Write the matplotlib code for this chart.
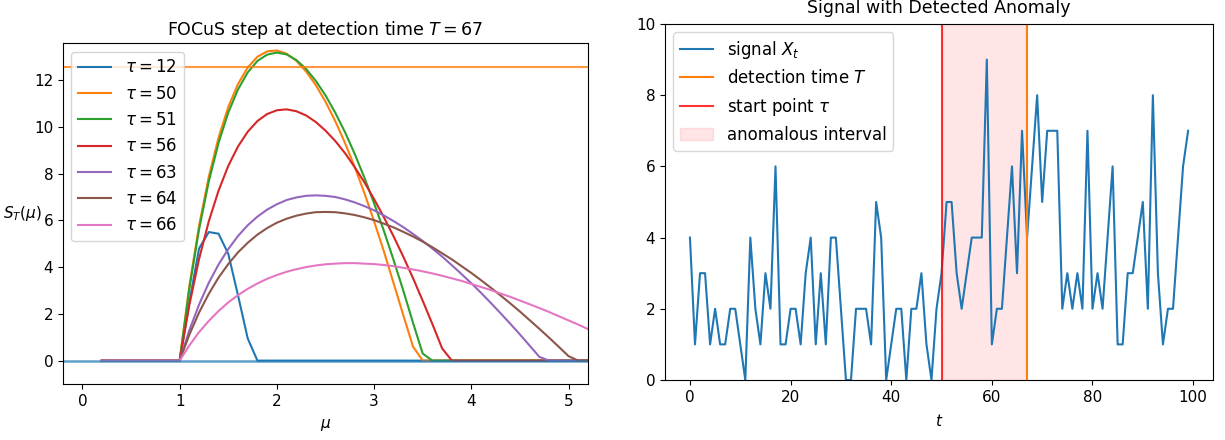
import numpy as np
import matplotlib
matplotlib.use('Agg')
import matplotlib.pyplot as plt

# signal X_t, t = 0..99
signal = [4, 1, 3, 3, 1, 2, 1, 1, 2, 2,
          1, 0, 4, 2, 1, 3, 2, 6, 1, 1,
          2, 2, 1, 3, 4, 1, 3, 1, 4, 4,
          2, 0, 0, 2, 2, 2, 1, 5, 4, 0,
          1, 2, 2, 0, 2, 2, 3, 1, 0, 2,
          3, 5, 5, 3, 2, 3, 4, 4, 4, 9,
          1, 2, 2, 4, 6, 3, 7, 4, 6, 8,
          5, 7, 7, 7, 2, 3, 2, 3, 2, 7,
          2, 3, 2, 4, 6, 1, 1, 3, 3, 4,
          5, 2, 8, 3, 1, 2, 2, 4, 6, 7]
tau_hat = 50
T_det = 67
threshold = 12.57

# mu grid of the FOCuS curves, curves are zero below mu = 1
mu = np.round(np.arange(0.2, 5.31, 0.1), 1)
taus = [12, 50, 51, 56, 63, 64, 66]
# values from mu = 1.0 on, step 0.1
s_12 = [0, 2.5, 4.8, 5.5, 5.43, 4.57, 2.8, 0.95, 0]
s_50 = [0, 3.19, 5.78, 7.87, 9.54, 10.85, 11.83, 12.54, 13.00, 13.23,
        13.27, 13.13, 12.83, 12.37, 11.79, 11.08, 10.25, 9.32, 8.29, 7.17,
        5.96, 4.68, 3.32, 1.95, 0.6, 0]
s_51 = [0, 3.09, 5.62, 7.67, 9.31, 10.61, 11.60, 12.33, 12.82, 13.09,
        13.18, 13.10, 12.86, 12.48, 11.97, 11.35, 10.61, 9.78, 8.85, 7.83,
        6.73, 5.56, 4.31, 3.00, 1.62, 0.3, 0]
s_56 = [0, 2.38, 4.35, 5.96, 7.27, 8.33, 9.16, 9.79, 10.25, 10.55,
        10.71, 10.75, 10.67, 10.49, 10.21, 9.84, 9.40, 8.88, 8.28, 7.63,
        6.91, 6.14, 5.32, 4.45, 3.53, 2.56, 1.56, 0.52, 0]
s_63 = [0, 1.30, 2.40, 3.33, 4.11, 4.77, 5.33, 5.79, 6.16, 6.46,
        6.69, 6.87, 6.98, 7.05, 7.07, 7.05, 7.00, 6.90, 6.77, 6.61,
        6.43, 6.21, 5.97, 5.71, 5.42, 5.12, 4.79, 4.45, 4.08, 3.70,
        3.31, 2.90, 2.47, 2.03, 1.58, 1.12, 0.64, 0.16, 0]
s_64 = [0, 1.11, 2.06, 2.86, 3.55, 4.13, 4.63, 5.04, 5.39, 5.67,
        5.90, 6.07, 6.20, 6.29, 6.35, 6.36, 6.35, 6.30, 6.23, 6.13,
        6.01, 5.86, 5.70, 5.51, 5.31, 5.09, 4.85, 4.59, 4.33, 4.04,
        3.75, 3.44, 3.12, 2.79, 2.45, 2.10, 1.73, 1.36, 0.98, 0.59,
        0.19, 0]
s_66 = [0, 0.65, 1.22, 1.70, 2.12, 2.49, 2.80, 3.07, 3.30, 3.50,
        3.66, 3.80, 3.91, 4.00, 4.07, 4.12, 4.15, 4.17, 4.17, 4.15,
        4.13, 4.09, 4.04, 3.97, 3.90, 3.82, 3.73, 3.63, 3.52, 3.41,
        3.28, 3.15, 3.02, 2.87, 2.73, 2.57, 2.41, 2.25, 2.08, 1.90,
        1.72, 1.54, 1.35, 1.16]
curves = [s_12, s_50, s_51, s_56, s_63, s_64, s_66]


def on_grid(vals):
    # zeros outside the listed part
    full = np.zeros(len(mu))
    i0 = int(np.argmin(np.abs(mu - 1.0)))
    full[i0:i0 + len(vals)] = vals
    return full


fig = plt.figure(figsize=(12.25, 4.4), dpi=100)

# left: FOCuS curves
ax1 = fig.add_axes([0.0514, 0.1273, 0.4286, 0.774])
for tau, vals in zip(taus, curves):
    ax1.plot(mu, on_grid(vals), label=r'$\tau = %d$' % tau)
ax1.axhline(threshold, color='C1', alpha=0.8)
ax1.axhline(0, color='C0', alpha=0.7, lw=1.8)
ax1.set_xlim(-0.2, 5.2)
ax1.set_ylim(-1.0, 13.57)
ax1.tick_params(labelsize=11)
ax1.set_title(r'FOCuS step at detection time $T = %d$' % T_det, fontsize=12.5)
ax1.set_xlabel(r'$\mu$', fontsize=11, labelpad=6)
ax1.set_ylabel(r'$S_T(\mu)$', rotation=0, ha='center', va='center', fontsize=11)
ax1.yaxis.set_label_coords(-0.078, 0.5)
ax1.legend(loc='upper left', fontsize=12)

# right: signal
ax2 = fig.add_axes([0.5429, 0.1364, 0.4473, 0.8091])
t = np.arange(len(signal))
ax2.plot(t, signal, label=r'signal $X_t$')
ax2.axvline(T_det, color='C1', label=r'detection time $T$')
ax2.axvline(tau_hat, color='red', alpha=0.8, label=r'start point $\tau$')
ax2.axvspan(tau_hat, T_det, color='red', alpha=0.1, label='anomalous interval')
ax2.set_ylim(0, 10)
ax2.tick_params(labelsize=11)
ax2.set_title('Signal with Detected Anomaly', fontsize=12.5, pad=8)
ax2.set_xlabel(r'$t$', fontsize=11, labelpad=6)
ax2.legend(loc='upper left', fontsize=12)

plt.savefig('out.png')
